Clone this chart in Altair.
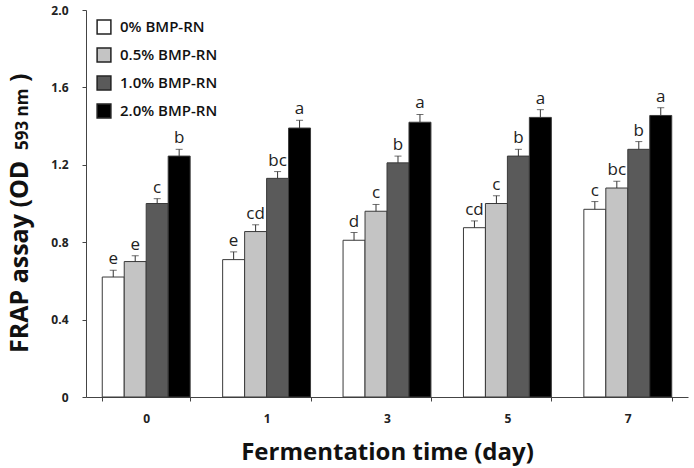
import altair as alt
import pandas as pd

days = ["0", "1", "3", "5", "7"]
concs = ["0% BMP-RN", "0.5% BMP-RN", "1.0% BMP-RN", "2.0% BMP-RN"]
colors = ["#ffffff", "#c4c4c4", "#5a5a5a", "#000000"]

# FRAP values per day, one list per concentration
v_0 = [0.62, 0.71, 0.81, 0.875, 0.97]
v_05 = [0.70, 0.855, 0.96, 1.00, 1.08]
v_10 = [1.00, 1.13, 1.21, 1.245, 1.28]
v_20 = [1.245, 1.39, 1.42, 1.445, 1.455]

e_0 = [0.035, 0.04, 0.04, 0.035, 0.04]
e_05 = [0.03, 0.035, 0.035, 0.04, 0.035]
e_10 = [0.025, 0.035, 0.035, 0.035, 0.04]
e_20 = [0.035, 0.04, 0.04, 0.04, 0.04]

l_0 = ["e", "e", "d", "cd", "c"]
l_05 = ["e", "cd", "c", "c", "bc"]
l_10 = ["c", "bc", "b", "b", "b"]
l_20 = ["b", "a", "a", "a", "a"]

rows = []
for conc, vals, errs, lets in zip(concs, [v_0, v_05, v_10, v_20],
                                  [e_0, e_05, e_10, e_20],
                                  [l_0, l_05, l_10, l_20]):
    for d, v, e, l in zip(days, vals, errs, lets):
        rows.append({"day": d, "conc": conc, "value": v, "err": e,
                     "top": v + e, "letter": l})
df = pd.DataFrame(rows)

FONT = "Open Sans"

x = alt.X("day:N", sort=days,
          scale=alt.Scale(paddingInner=0.27, paddingOuter=0.135),
          axis=alt.Axis(title="Fermentation time (day)", labelAngle=0,
                        tickBand="extent", tickSize=4, labelPadding=12,
                        labelFontSize=12, labelFontWeight="bold",
                        titleFontSize=24, titleFontWeight="bold",
                        titlePadding=16))
xo = alt.XOffset("conc:N", sort=concs, scale=alt.Scale(paddingInner=0))
y = alt.Y("value:Q", scale=alt.Scale(domain=[0, 2.0]),
          axis=alt.Axis(title=None, values=[0, 0.4, 0.8, 1.2, 1.6, 2.0],
                        labelExpr="datum.value == 0 ? '0' : format(datum.value, '.1f')",
                        tickSize=4, labelPadding=14, labelFontSize=12,
                        labelFontWeight="bold", grid=False))

base = alt.Chart(df)

bars = base.mark_bar(stroke="#3a3a3a", strokeWidth=1).encode(
    x=x, xOffset=xo, y=y,
    fill=alt.Fill("conc:N", sort=concs,
                  scale=alt.Scale(domain=concs, range=colors),
                  legend=alt.Legend(title=None, orient="none", legendX=10,
                                    legendY=9, symbolType="square",
                                    symbolSize=190, symbolStrokeColor="#222",
                                    symbolStrokeWidth=1.5, symbolOpacity=1,
                                    labelFontSize=15, labelFontWeight=600,
                                    rowPadding=8, labelOffset=8)),
)

whisk = base.mark_rule(color="#333", strokeWidth=1).encode(
    x=x, xOffset=xo, y="value:Q", y2="top:Q")

caps = base.mark_tick(color="#333", thickness=1, size=7, orient="horizontal").encode(
    x=x, xOffset=xo, y="top:Q")

letters = base.mark_text(fontSize=17, dy=-11, color="#222", font=FONT).encode(
    x=x, xOffset=xo, y="top:Q", text="letter:N")

# y-axis title, wavelength set as a smaller subscript on a shared baseline
ttl = pd.DataFrame({"t": ["FRAP assay (OD", "593 nm", ")"],
                    "pos": [343, 140, 72], "size": [25, 17, 25]})
ytitle = alt.Chart(ttl).mark_text(angle=270, align="left", baseline="alphabetic",
                                  fontWeight="bold", font=FONT, color="#111").encode(
    x=alt.value(-58), y=alt.Y("pos:Q", scale=None), text="t:N",
    size=alt.Size("size:Q", scale=None, legend=None))

chart = alt.layer(bars, whisk, caps, letters, ytitle).properties(
    width=602, height=387,
    autosize=alt.AutoSizeParams(type="none"),
    padding={"left": 86, "top": 10, "right": 6, "bottom": 71},
).configure(font=FONT).configure_view(stroke=None).configure_axis(
    domainColor="#444", tickColor="#444", labelColor="#222", titleColor="#111",
    labelFont=FONT, titleFont=FONT,
).configure_legend(labelFont=FONT, labelColor="#111")

chart.save("out.html", embed_options={"renderer": "svg", "actions": False})
